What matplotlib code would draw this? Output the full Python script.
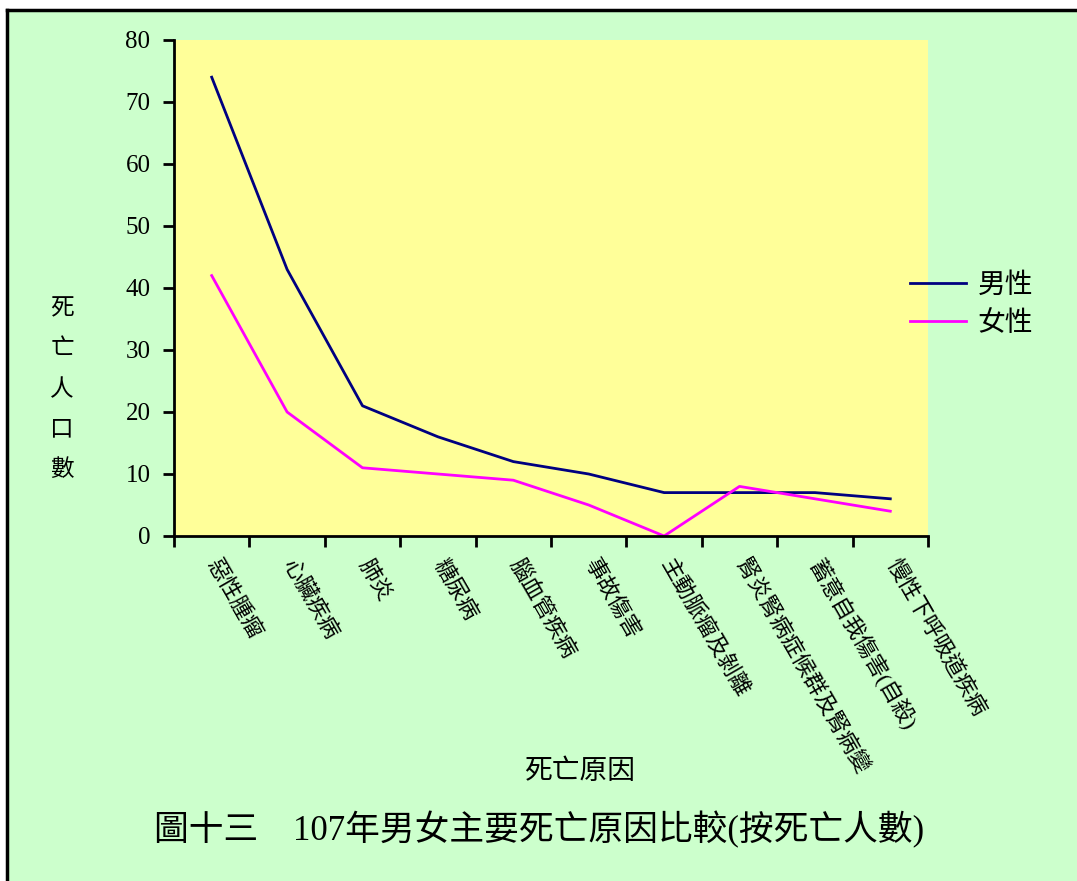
import matplotlib
matplotlib.use('Agg')
import matplotlib.pyplot as plt
from matplotlib.patches import Rectangle
import numpy as np

plt.rcParams['font.family'] = ['Liberation Serif', 'Noto Sans CJK TC', 'DejaVu Sans']

# data
causes = ['惡性腫瘤', '心臟疾病', '肺炎', '糖尿病', '腦血管疾病', '事故傷害',
          '主動脈瘤及剝離', '腎炎腎病症候群及腎病變', '蓄意自我傷害(自殺)', '慢性下呼吸道疾病']
male = [74, 43, 21, 16, 12, 10, 7, 7, 7, 6]
female = [42, 20, 11, 10, 9, 5, 0, 8, 6, 4]
yticks = [0, 10, 20, 30, 40, 50, 60, 70, 80]

W, H = 1077, 881
fig = plt.figure(figsize=(W/100, H/100), dpi=100)
fig.patch.set_facecolor('white')

# green panel with black border on top / left
fig.patches.append(Rectangle((7/W, 0), 1.0, 1 - 10/H, transform=fig.transFigure,
                             facecolor='#CCFFCC', edgecolor='none', zorder=-5))
fig.add_artist(plt.Line2D([7/W, 7/W], [0, 1 - 10/H], color='black', lw=2.5, transform=fig.transFigure))
fig.add_artist(plt.Line2D([7/W, 1], [1 - 10/H, 1 - 10/H], color='black', lw=2.5, transform=fig.transFigure))

ax = fig.add_axes([174/W, (H - 536)/H, 754/W, 496/H])
ax.set_zorder(3)
ax.set_facecolor('#FFFF99')

x = np.arange(len(causes))
ax.plot(x, male, color='#000080', lw=2, label='男性')
ax.plot(x, female, color='#FF00FF', lw=2, label='女性')

ax.set_xlim(-0.5, len(causes) - 0.5)
ax.set_ylim(0, 80)
ax.set_yticks(yticks)
ax.set_yticklabels([str(v) for v in yticks], fontsize=18)

ax.set_xticks(x)
ax.set_xticklabels(causes, rotation=-60, ha='left', va='center',
                   rotation_mode='anchor', fontsize=16)
ax.set_xticks(np.arange(len(causes) + 1) - 0.5, minor=True)
ax.tick_params(axis='x', which='major', length=0, pad=18)
ax.tick_params(axis='x', which='minor', length=8, width=2, direction='out')
ax.tick_params(axis='y', length=8, width=2, direction='out', pad=9)

for s in ['top', 'right']:
    ax.spines[s].set_visible(False)
for s in ['left', 'bottom']:
    ax.spines[s].set_linewidth(2)

# y label stacked characters
for i, ch in enumerate('死亡人口數'):
    fig.text(62/W, 1 - (310 + 40*i)/H, ch, fontsize=17, ha='center', va='center')

fig.text(580/W, 1 - 772/H, '死亡原因', fontsize=20, ha='center', va='center')
fig.text(539/W, 1 - 830/H, '圖十三　107年男女主要死亡原因比較(按死亡人數)',
         fontsize=25, ha='center', va='center')

fig.legend(loc='center left', bbox_to_anchor=(910/W, 1 - 305/H), frameon=False,
           fontsize=20, handlelength=2.0, handletextpad=0.43, labelspacing=0.45,
           borderpad=0, borderaxespad=0)

fig.savefig('out.png', dpi=100, facecolor=fig.get_facecolor())
